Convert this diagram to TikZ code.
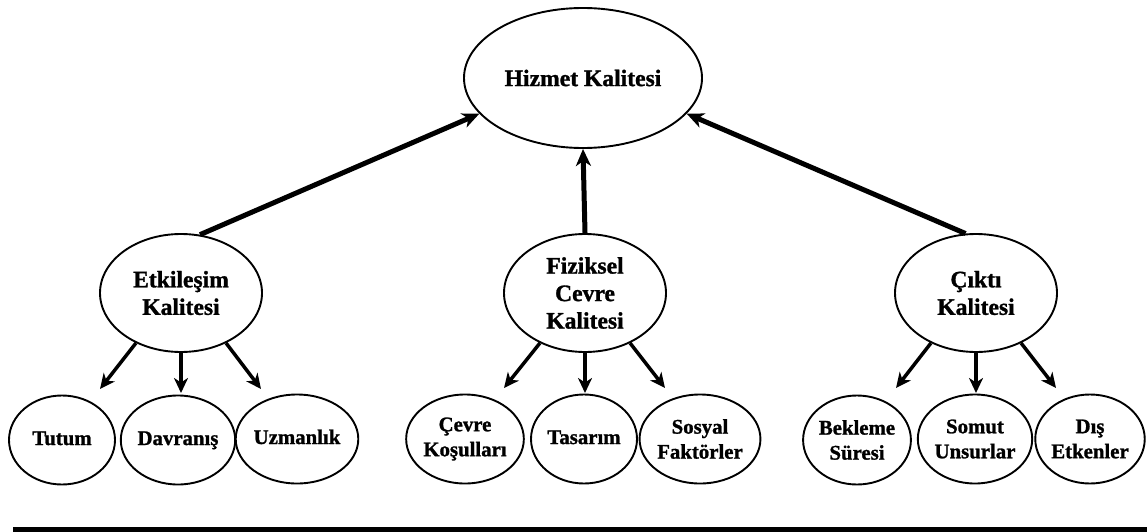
\documentclass[tikz,border=0pt]{standalone}
\usepackage{fontspec}
\setmainfont{Liberation Serif}
\newfontfamily\heavyfont{Liberation Serif Bold}[FakeBold=1.2]
\usetikzlibrary{arrows.meta,shapes.geometric}

\tikzset{
  oval/.style={ellipse, draw=black, line width=1.9pt, inner sep=0pt, align=center,
               font=\fontsize{23.6}{27.5}\selectfont\heavyfont},
  topoval/.style={oval, minimum width=238pt, minimum height=140pt},
  midoval/.style={oval, minimum width=162pt, minimum height=118pt},
  leafoval/.style={oval, minimum width=106pt, minimum height=89pt,
                   font=\fontsize{20.8}{25}\selectfont\heavyfont},
  uparrow/.style={line width=5pt, -{Stealth[length=17pt,width=15pt,inset=5pt]}},
  downarrow/.style={line width=3.5pt, -{Stealth[length=15pt,width=14pt,inset=4.5pt]}}
}

\begin{document}
\begin{tikzpicture}[x=1pt,y=-1pt]
  \useasboundingbox (0,0) rectangle (1147,532);

  % root
  \node[topoval] (hiz) at (583,78) {Hizmet Kalitesi};

  % second level
  \node[midoval] (etk) at (181,293) {Etkileşim\\Kalitesi};
  \node[midoval] (fiz) at (585,293) {Fiziksel\\Cevre\\Kalitesi};
  \node[midoval] (cik) at (976,293) {Çıktı\\Kalitesi};

  % leaves
  \node[leafoval] (tut) at (62,440)  {Tutum\strut};
  \node[leafoval] (dav) at (178,440) {Davranış\strut};
  \node[leafoval] (uzm) at (297,439) {Uzmanlık\strut};
  \node[leafoval] (cev) at (465,439) {Çevre\\Koşulları};
  \node[leafoval] (tas) at (584,439) {Tasarım\strut};
  \node[leafoval] (sos) at (700,439) {Sosyal\\Faktörler};
  \node[leafoval] (bek) at (857,440) {Bekleme\\Süresi};
  \node[leafoval] (som) at (975,439) {Somut\\Unsurlar};
  \node[leafoval] (dis) at (1090,439) {Dış\\Etkenler};

  % arrow tips above the leaves
  \coordinate (etkL) at (100,389);
  \coordinate (etkM) at (181,393);
  \coordinate (etkR) at (261,389);
  \coordinate (fizL) at (504,388);
  \coordinate (fizM) at (585,393);
  \coordinate (fizR) at (665,388);
  \coordinate (cikL) at (896,388);
  \coordinate (cikM) at (976,393);
  \coordinate (cikR) at (1056,388);

  % upward arrows to the root
  \draw[uparrow] (etk.72) -- (hiz.199);
  \draw[uparrow] (fiz.north) -- (hiz.south);
  \draw[uparrow] (cik.100) -- (hiz.341);

  % downward arrows
  \draw[downarrow] (etk.228) -- (etkL);
  \draw[downarrow] (etk.south) -- (etkM);
  \draw[downarrow] (etk.312) -- (etkR);
  \draw[downarrow] (fiz.228) -- (fizL);
  \draw[downarrow] (fiz.south) -- (fizM);
  \draw[downarrow] (fiz.312) -- (fizR);
  \draw[downarrow] (cik.228) -- (cikL);
  \draw[downarrow] (cik.south) -- (cikM);
  \draw[downarrow] (cik.312) -- (cikR);

  % rule along the bottom
  \fill[black] (13,527) rectangle (1147,532);
\end{tikzpicture}
\end{document}
